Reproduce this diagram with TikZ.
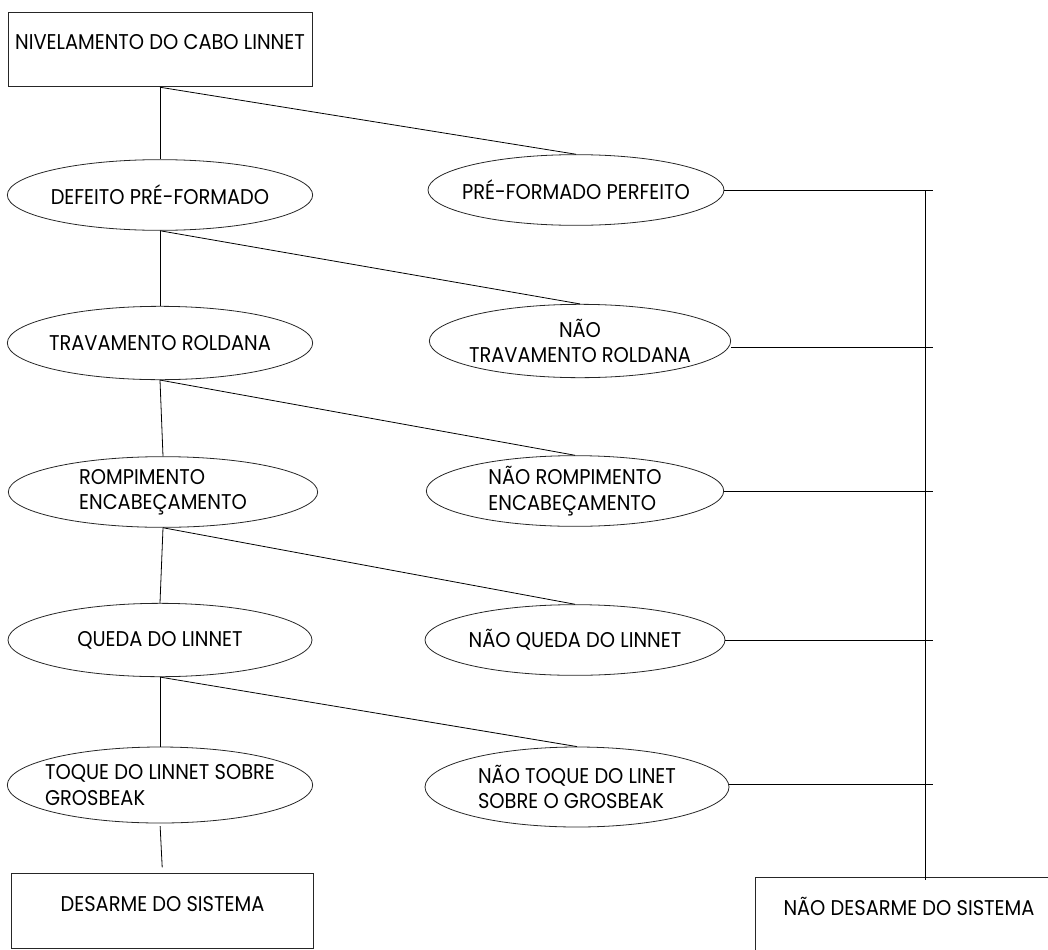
\documentclass[tikz,border=0pt]{standalone}
\usepackage{fontspec}
\setmainfont{Poppins}[FakeStretch=0.91]
\usepackage{tikz}
\usetikzlibrary{shapes.geometric,positioning,calc}
\tikzset{
  linha/.style={line width=0.6pt,draw=black},
  evento/.style={ellipse,draw=black!85,line width=0.6pt,inner xsep=-60pt,inner ysep=-12pt,
    minimum width=229pt,minimum height=53pt,align=center},
  caixa/.style={rectangle,draw=black!85,line width=0.6pt,minimum width=228pt,minimum height=56pt,
    text height=11pt,text depth=11pt}
}

\begin{document}
\begin{tikzpicture}[x=0.75pt,y=-0.75pt,font=\fontsize{16pt}{19pt}\selectfont]
\useasboundingbox (0,0) rectangle (1048,949);
\node[caixa] (nivel) at (160,49.5) {NIVELAMENTO DO CABO LINNET};
\node[evento] (defeito) at (160,195) {DEFEITO PRÉ-FORMADO};
\node[evento,minimum width=222pt] (perfeito) at (576,190) {PRÉ-FORMADO PERFEITO};
\node[evento,minimum height=55pt] (trav) at (160,343) {TRAVAMENTO ROLDANA};
\node[evento,minimum width=226pt,minimum height=55pt] (ntrav) at (580,341) {NÃO\\TRAVAMENTO ROLDANA};
\node[evento,align=left,minimum width=232pt] (romp) at (163,492) {ROMPIMENTO\\ENCABEÇAMENTO};
\node[evento,align=left,minimum width=223pt] (nromp) at (575,491) {NÃO ROMPIMENTO\\ENCABEÇAMENTO};
\node[evento,minimum width=228pt,minimum height=55pt] (queda) at (160,640) {QUEDA DO LINNET};
\node[evento,minimum width=225pt] (nqueda) at (575,640) {NÃO QUEDA DO LINNET};
\node[evento,align=left,minimum height=57pt] (toque) at (160,785) {TOQUE DO LINNET SOBRE\\GROSBEAK};
\node[evento,align=left,minimum width=228pt,minimum height=60pt] (ntoque) at (577,787) {NÃO TOQUE DO LINET\\SOBRE O GROSBEAK};
\node[caixa,minimum width=226pt] (desarme) at (162.5,911) {DESARME DO SISTEMA};
\node[caixa,minimum width=231pt] (ndesarme) at (909,915) {NÃO DESARME DO SISTEMA};

\draw[linha] (nivel.south) -- (defeito.north);
\draw[linha] (nivel.south) -- (perfeito.north);
\foreach \a/\b/\c in {defeito/trav/ntrav,trav/romp/nromp,romp/queda/nqueda,queda/toque/ntoque}{
  \draw[linha] (\a.south) -- (\b.north);
  \draw[linha] (\a.south) -- (\c.north);
}
\draw[linha,shorten <=2pt,shorten >=4.5pt] (toque.south) -- (desarme.north);

\coordinate (barra) at (925,190);
\coordinate (ponta) at (933,190);
\foreach \e/\d in {perfeito/0,ntrav/-4.5,nromp/0,nqueda/0,ntoque/2}
  \draw[linha] ([yshift=\d pt]\e.east) -- ([yshift=\d pt]\e.east -| ponta);
\draw[linha] (barra) -- ([yshift=-2pt]barra |- ndesarme.north);
\end{tikzpicture}
\end{document}
